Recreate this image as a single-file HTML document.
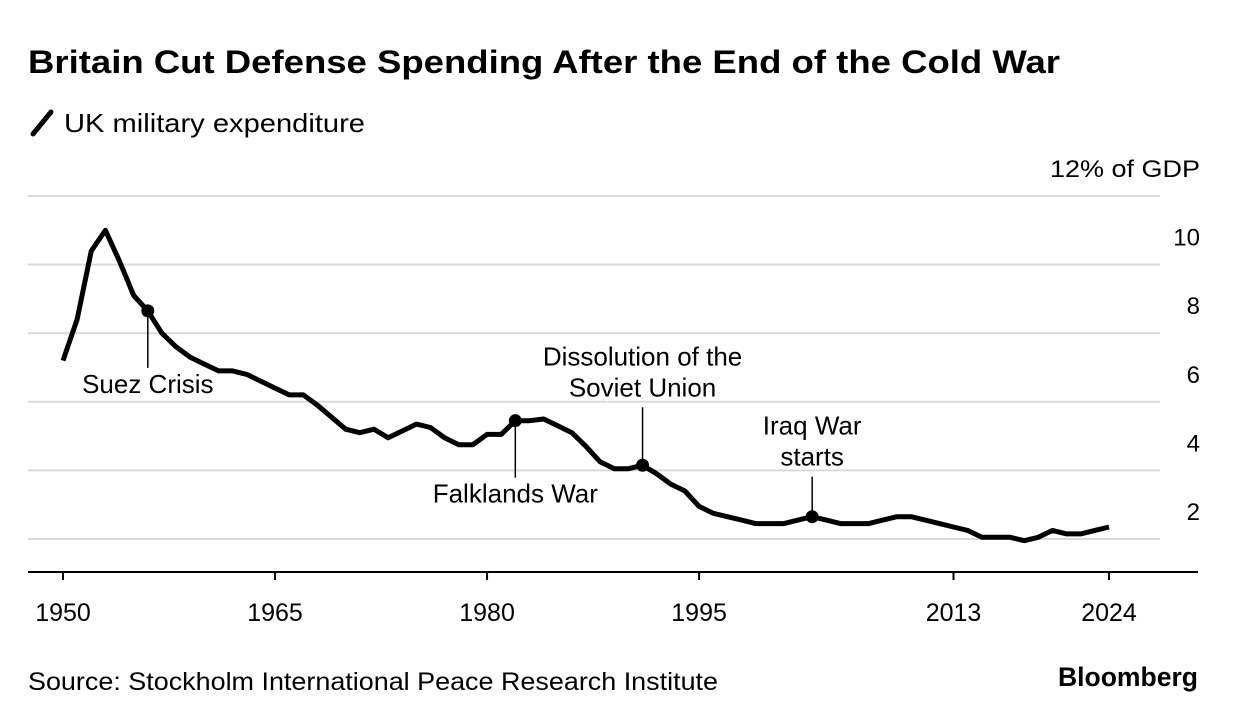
<!DOCTYPE html>
<html><head><meta charset="utf-8"><style>
body{margin:0;background:#fff;width:1236px;height:722px;overflow:hidden;font-family:"Liberation Sans",Arial,sans-serif}
svg text{font-family:"Liberation Sans",Arial,sans-serif}
</style></head><body>
<svg id="chart" width="1236" height="722" xmlns="http://www.w3.org/2000/svg">
<text x="28" y="73" font-size="32" font-weight="bold" fill="#000" textLength="1032" lengthAdjust="spacingAndGlyphs">Britain Cut Defense Spending After the End of the Cold War</text>
<g>
<line x1="33" y1="134" x2="51" y2="112" stroke="#000" stroke-width="5" stroke-linecap="round"/>
<text x="64" y="132" font-size="26" fill="#000" textLength="301" lengthAdjust="spacingAndGlyphs">UK military expenditure</text>
</g>
<g id="grid"></g><g id="axes"></g><g id="series"></g><g id="annot"></g>
<text x="28" y="690" font-size="25" fill="#000" textLength="690" lengthAdjust="spacingAndGlyphs">Source: Stockholm International Peace Research Institute</text>
<text x="1058" y="686" font-size="27" font-weight="bold" fill="#000" textLength="140" lengthAdjust="spacingAndGlyphs">Bloomberg</text>
</svg>
<script>
const years=[];for(let y=1950;y<=2024;y++)years.push(y);
const values=[7.2,8.4,10.4,11.0,10.1,9.1,8.65,8.0,7.6,7.3,7.1,6.9,6.9,6.8,6.6,6.4,6.2,6.2,5.9,5.55,5.2,5.1,5.2,4.95,5.15,5.35,5.25,4.95,4.75,4.75,5.05,5.05,5.45,5.45,5.5,5.3,5.1,4.7,4.25,4.05,4.05,4.15,3.9,3.6,3.4,2.95,2.75,2.65,2.55,2.45,2.45,2.45,2.55,2.65,2.55,2.45,2.45,2.45,2.55,2.65,2.65,2.55,2.45,2.35,2.25,2.05,2.05,2.05,1.95,2.05,2.25,2.15,2.15,2.25,2.35];
const yTicks=[2,4,6,8,10,12];
const xTicks=[1950,1965,1980,1995,2013,2024];
const events=[{year:1956,label:["Suez Crisis"],dir:"down",len:57},{year:1982,label:["Falklands War"],dir:"down",len:57},{year:1991,label:["Dissolution of the","Soviet Union"],dir:"up",len:58},{year:2003,label:["Iraq War","starts"],dir:"up",len:40}];
const NS="http://www.w3.org/2000/svg";
const X=y=>63+(y-1950)*(1109-63)/74;
const Y=v=>539-(v-2)*34.3;
function mk(t,a,p){const e=document.createElementNS(NS,t);for(const k in a)e.setAttribute(k,a[k]);document.getElementById(p).appendChild(e);return e;}
yTicks.forEach(v=>{
 const l=mk('line',{x1:28,x2:1160,y1:Y(v),y2:Y(v),stroke:'#d9d9d9','stroke-width':2},'grid');
 
 
 const t=mk('text',{x:1200,y:Y(v)-19,'font-size':24,'text-anchor':'end',fill:'#000'},'grid');
 t.textContent=v===12?'12% of GDP':String(v);
 if(v===12){t.setAttribute('textLength','150');t.setAttribute('lengthAdjust','spacingAndGlyphs');}
 
 
});
const ax=mk('line',{x1:28,x2:1198,y1:572,y2:572,stroke:'#000','stroke-width':2},'axes');


xTicks.forEach(y=>{
 const tk=mk('line',{x1:X(y),x2:X(y),y1:572,y2:580,stroke:'#000','stroke-width':2},'axes');
 
 
 const t=mk('text',{x:X(y),y:621,'font-size':25,'text-anchor':'middle',fill:'#000'},'axes');
 t.textContent=y;
 
 
});
const d=values.map((v,i)=>(i?'L':'M')+X(years[i]).toFixed(1)+','+Y(v).toFixed(1)).join('');
const p=mk('path',{d:d,fill:'none',stroke:'#000','stroke-width':5,'stroke-linejoin':'round'},'series');


events.forEach(e=>{
 const v=values[years.indexOf(e.year)],x=X(e.year),y=Y(v);
 const y2=e.dir==='down'?y+e.len:y-e.len;
 const l=mk('line',{x1:x,x2:x,y1:y,y2:y2,stroke:'#000','stroke-width':1.5},'annot');
 
 
 const c=mk('circle',{cx:x,cy:y,r:6.5,fill:'#000'},'annot');
 
 
 e.label.forEach((s,i)=>{
  const ty=e.dir==='down'?y2+25+i*31:y2-11-(e.label.length-1-i)*31;
  const t=mk('text',{x:x,y:ty,'font-size':26,'text-anchor':'middle',fill:'#000',stroke:'#fff','stroke-width':5,'paint-order':'stroke'},'annot');
  t.textContent=s;
  
  
 });
});
</script>
</body></html>
